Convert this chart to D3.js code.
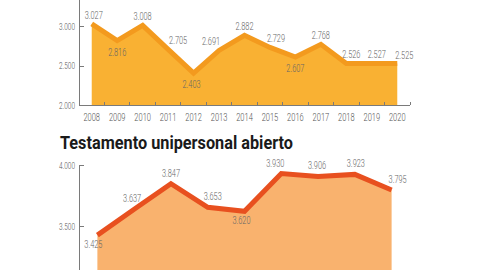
<!DOCTYPE html>
<html>
<head>
<meta charset="utf-8">
<script src="https://cdn.jsdelivr.net/npm/d3@7"></script>
<style>
  body { margin: 0; background: #fff; }
  svg { display: block; }
  .axis path, .axis line { stroke: #7a7a7a; stroke-width: 1; shape-rendering: crispEdges; }
  .axis text { font-family: Roboto, "DejaVu Sans", sans-serif; font-weight: 300; fill: #555; }
  .val { font-family: Roboto, "DejaVu Sans", sans-serif; font-weight: 300; font-size: 11.5px; fill: #666; text-anchor: middle; }
</style>
</head>
<body>
<div id="chart"></div>
<script>
/* upper chart (title cut off above the picture) */
var years1 = [2008, 2009, 2010, 2011, 2012, 2013, 2014, 2015, 2016, 2017, 2018, 2019, 2020];
var values1 = [3027, 2816, 3008, 2705, 2403, 2691, 2882, 2729, 2607, 2768, 2526, 2527, 2525];
var yTicks1 = [2000, 2500, 3000];

/* Testamento unipersonal abierto */
var years2 = [2012, 2013, 2014, 2015, 2016, 2017, 2018, 2019, 2020];
var values2 = [3425, 3637, 3847, 3653, 3620, 3930, 3906, 3923, 3795];
var yTicks2 = [3500, 4000];

/* label placement: a = above the line, b = below; small horizontal nudges */
var place1 = ["a", "b", "a", "a", "b", "a", "a", "a", "b", "a", "a", "a", "a"];
var nudge1 = [2, 0, 0, 10, -2, -8, 0, 6, 0, 0, 5, 5, 7];
var place2 = ["b", "a", "a", "a", "b", "a", "a", "a", "a"];
var nudge2 = [-4, -2, 0, 5, -3, -6, -1, 1, 6];

var W = 477, H = 270;
var es = d3.formatLocale({decimal: ",", thousands: ".", grouping: [3], currency: ["", " €"]});
var fmt = es.format(",d");

var svg = d3.select("#chart").append("svg")
  .attr("width", W)
  .attr("height", H);

/* no condensed face installed: squeeze the glyphs horizontally */
function squeeze(sel, k) {
  sel.each(function() {
    var len = this.getComputedTextLength();
    d3.select(this)
      .attr("textLength", len * k)
      .attr("lengthAdjust", "spacingAndGlyphs");
  });
}

function drawPanel(opt) {
  var x = d3.scaleBand().domain(opt.years).range([79, 410]).padding(0),
      y = d3.scaleLinear().domain(opt.yDomain).range(opt.yRange);
  var cx = function(d, i) { return x(opt.years[i]) + x.bandwidth() / 2; };

  var g = svg.append("g");

  var area = d3.area()
    .x(cx)
    .y0(y(opt.yDomain[0]))
    .y1(function(d) { return y(d); });

  var line = d3.line()
    .x(cx)
    .y(function(d) { return y(d); });

  g.append("path")
    .datum(opt.values)
    .attr("fill", opt.fill)
    .attr("d", area);

  g.append("path")
    .datum(opt.values)
    .attr("fill", "none")
    .attr("stroke", opt.stroke)
    .attr("stroke-width", 5)
    .attr("stroke-linejoin", "miter")
    .attr("d", line);

  var yAxis = d3.axisLeft(y)
    .tickValues(opt.yTicks)
    .tickSize(-5)
    .tickSizeOuter(0)
    .tickPadding(4)
    .tickFormat(fmt);

  var gY = g.append("g")
    .attr("class", "axis")
    .attr("transform", "translate(79,0)")
    .call(yAxis);
  gY.selectAll("text").style("font-size", "9.5px").call(squeeze, 0.68);

  if (opt.showX) {
    var base = y(opt.yDomain[0]);
    var gX = g.append("g").attr("class", "axis");
    gX.append("line")
      .attr("x1", 79).attr("x2", 410)
      .attr("y1", base).attr("y2", base);
    /* ticks sit on the band edges */
    var edges = opt.years.slice(1).map(function(d) { return x(d); }).concat([x.range()[1]]);
    gX.selectAll(".edge")
      .data(edges)
      .enter().append("line")
        .attr("class", "edge")
        .attr("x1", function(d) { return d; })
        .attr("x2", function(d) { return d; })
        .attr("y1", base)
        .attr("y2", base - 3);
    gX.selectAll(".yr")
      .data(opt.years)
      .enter().append("text")
        .attr("class", "yr")
        .attr("x", function(d) { return x(d) + x.bandwidth() / 2; })
        .attr("y", base + 16)
        .attr("text-anchor", "middle")
        .style("font-size", "11px")
        .text(function(d) { return d; })
        .call(squeeze, 0.68);
  }

  g.selectAll(".val")
    .data(opt.values)
    .enter().append("text")
      .attr("class", "val")
      .attr("x", function(d, i) { return cx(d, i) + opt.nudge[i]; })
      .attr("y", function(d, i) {
        return opt.place[i] === "a" ? y(d) - opt.above : y(d) + opt.below;
      })
      .text(fmt)
      .call(squeeze, 0.64);
}

drawPanel({
  years: years1, values: values1, yTicks: yTicks1,
  yDomain: [2000, 3350], yRange: [105, -1.6],
  fill: "#f9b133", stroke: "#f39a1e",
  place: place1, nudge: nudge1, above: 5, below: 15,
  showX: true
});

svg.append("text")
  .attr("x", 60)
  .attr("y", 149)
  .attr("textLength", 233)
  .attr("lengthAdjust", "spacingAndGlyphs")
  .style("font-family", "Roboto, 'DejaVu Sans', sans-serif")
  .style("font-weight", 700)
  .style("font-size", "19px")
  .style("fill", "#1a1a1a")
  .text("Testamento unipersonal abierto");

drawPanel({
  years: years2, values: values2, yTicks: yTicks2,
  yDomain: [3000, 4000], yRange: [287, 165],
  fill: "#f9b26e", stroke: "#e8501f",
  place: place2, nudge: nudge2, above: 7, below: 13,
  showX: false
});
</script>
</body>
</html>
